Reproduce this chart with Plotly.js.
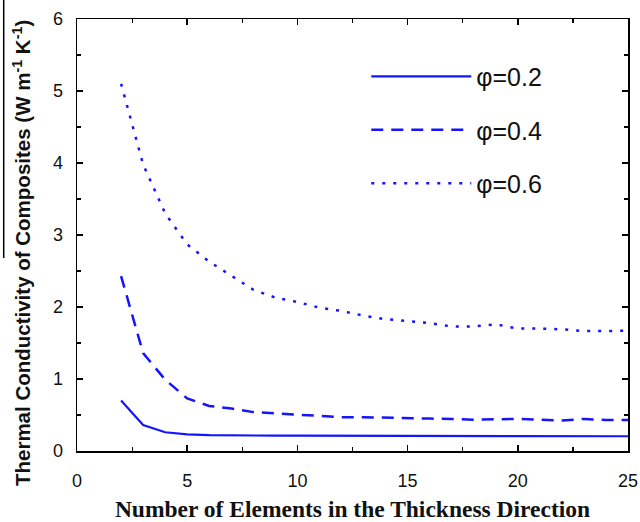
<!DOCTYPE html>
<html>
<head>
<meta charset="utf-8">
<script src="https://cdn.plot.ly/plotly-3.0.1.min.js"></script>
<style>html,body{margin:0;padding:0;background:#fff}#chart{width:640px;height:522px}</style>
</head>
<body>
<div id="chart"></div>
<script>
const elements = [2,3,4,5,6,7,8,9,10,11,12,13,14,15,16,17,18,19,20,21,22,23,24,25];
const phi02 = [0.70,0.36,0.26,0.23,0.22,0.215,0.213,0.213,0.213,0.213,0.213,0.213,0.213,0.213,0.213,0.205,0.205,0.205,0.205,0.205,0.205,0.205,0.205,0.205];
const phi04 = [2.43,1.36,0.99,0.73,0.625,0.59,0.54,0.52,0.50,0.48,0.47,0.47,0.46,0.46,0.45,0.445,0.435,0.44,0.445,0.435,0.425,0.445,0.43,0.43];
const phi06 = [5.10,3.98,3.30,2.87,2.63,2.44,2.24,2.13,2.07,1.99,1.945,1.88,1.83,1.805,1.775,1.73,1.73,1.76,1.70,1.70,1.69,1.665,1.665,1.67];
const seriesNames = ['φ=0.2','φ=0.4','φ=0.6'];
const yTitle = 'Thermal Conductivity of Composites (W m<sup>-1</sup> K<sup>-1</sup>)';
const xTitle = 'Number of Elements in the Thickness Direction';

const blue = '#1414ff';
const traces = [
  {x: elements, y: phi02, name: seriesNames[0], legendgroup:'a', mode:'lines', line:{color:blue, width:2.2}},
  {x: elements, y: phi04, name: seriesNames[1], legendgroup:'b', mode:'lines', line:{color:blue, width:2.5, dash:'12px,8px'}},
  {x: elements, y: phi06, name: seriesNames[2], legendgroup:'c', mode:'lines', line:{color:blue, width:2.5, dash:'3px,8px'}}
];

const axisCommon = {
  showline: true, linecolor: '#000', linewidth: 1.5, mirror: 'allticks',
  ticks: 'inside', ticklen: 6, tickwidth: 1.5, tickcolor: '#000',
  showgrid: false, zeroline: false,
  tickfont: {family: 'Liberation Sans, Arial, sans-serif', size: 18, color: '#111'}
};

const layout = {
  width: 640, height: 522,
  margin: {l: 77, r: 12, t: 19, b: 71},
  paper_bgcolor: '#fff', plot_bgcolor: '#fff',
  showlegend: true,
  legend: {
    x: 0.525, y: 0.92, xanchor: 'left', yanchor: 'top',
    font: {family: 'Liberation Sans, Arial, sans-serif', size: 25, color: '#111'},
    bgcolor: 'rgba(0,0,0,0)', itemwidth: 100, tracegroupgap: 18,
    itemclick: false
  },
  xaxis: Object.assign({}, axisCommon, {
    range: [0, 25], tickvals: [0,5,10,15,20,25], ticklabelstandoff: 13,
    minor: {ticks: 'inside', ticklen: 4, tickwidth: 1.2, tickcolor: '#000', dtick: 2.5, showgrid: false},
    title: {text: xTitle, standoff: 10,
      font: {family: 'Liberation Serif, Times New Roman, serif', size: 23.5, color: '#111', weight: 'bold'}}
  }),
  yaxis: Object.assign({}, axisCommon, {
    range: [0, 6], tickvals: [0,1,2,3,4,5,6], ticklabelstandoff: 9,
    minor: {ticks: 'inside', ticklen: 4, tickwidth: 1.2, tickcolor: '#000', dtick: 0.5, showgrid: false}
  }),
  annotations: [
    {text: yTitle, xref: 'paper', yref: 'paper', x: -0.1, y: 0.458, xanchor: 'center', yanchor: 'middle',
     textangle: -90, showarrow: false,
     font: {family: 'Liberation Sans, Arial, sans-serif', size: 20.5, color: '#111', weight: 'bold'}}
  ],
  shapes: [
    {type: 'line', xref: 'paper', yref: 'paper', x0: -0.133, x1: -0.133, y0: 1.05, y1: 0.447,
     line: {color: '#000', width: 1.5}}
  ]
};

Plotly.newPlot('chart', traces, layout, {staticPlot: true, displayModeBar: false});
</script>
</body>
</html>
